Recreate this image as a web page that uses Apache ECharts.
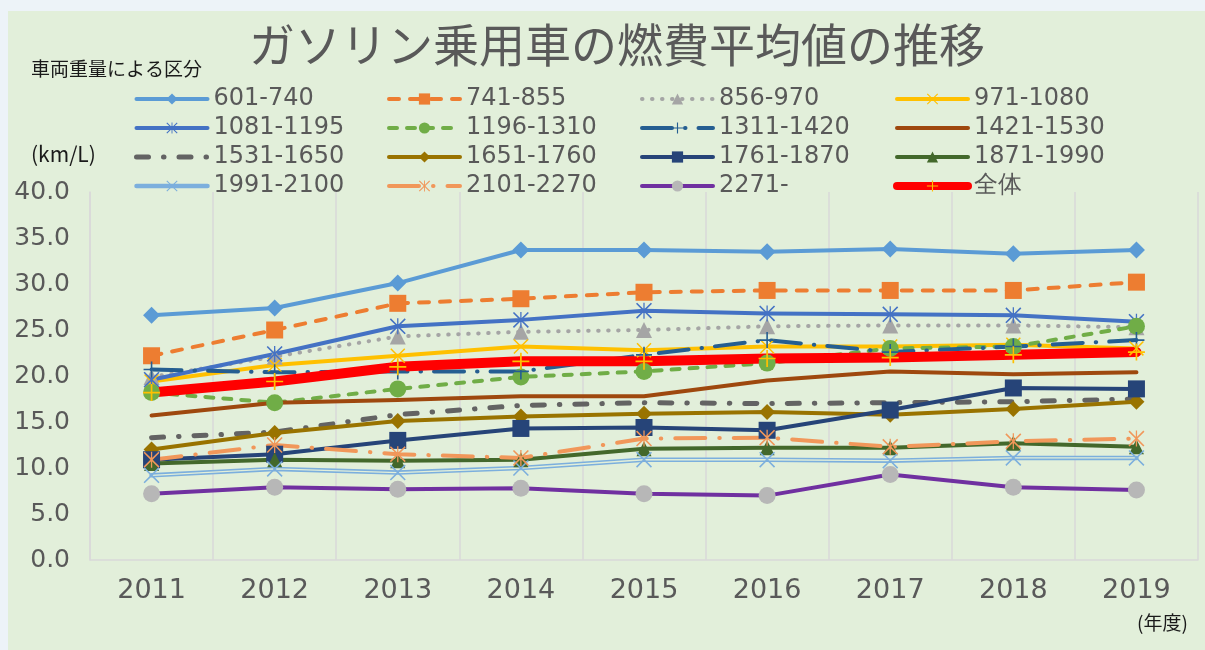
<!DOCTYPE html>
<html>
<head>
<meta charset="utf-8">
<script src="https://cdn.jsdelivr.net/npm/echarts@6/dist/echarts.min.js"></script>
<style>
  html, body { margin: 0; padding: 0; background: #edf3f8; }
  #wrap { position: relative; width: 1205px; height: 650px; overflow: hidden; }
  #panel { position: absolute; left: 8px; top: 11px; right: 0; bottom: 0; background: #e2efda; }
  #chart { position: absolute; left: 0; top: 0; width: 1205px; height: 650px; }
</style>
</head>
<body>
<div id="wrap"><div id="panel"></div><div id="chart"></div></div>
<script>
// ---- data ----
const years = ['2011', '2012', '2013', '2014', '2015', '2016', '2017', '2018', '2019'];
const s601_740   = [26.6, 27.4, 30.1, 33.7, 33.7, 33.5, 33.8, 33.3, 33.7];
const s741_855   = [22.2, 25.0, 27.9, 28.4, 29.1, 29.3, 29.3, 29.3, 30.2];
const s856_970   = [19.9, 22.1, 24.3, 24.8, 25.0, 25.4, 25.5, 25.5, 25.3];
const s971_1080  = [19.4, 21.2, 22.2, 23.2, 22.8, 23.2, 23.2, 23.4, 23.0];
const s1081_1195 = [19.6, 22.4, 25.4, 26.1, 27.1, 26.8, 26.7, 26.6, 25.9];
const s1196_1310 = [18.2, 17.1, 18.6, 19.9, 20.5, 21.4, 23.0, 23.2, 25.4];
const s1311_1420 = [20.7, 20.4, 20.5, 20.5, 22.3, 23.9, 22.6, 23.2, 23.9];
const s1421_1530 = [15.7, 17.1, 17.4, 17.8, 17.8, 19.5, 20.5, 20.2, 20.4];
const s1531_1650 = [13.3, 13.9, 15.8, 16.8, 17.1, 17.0, 17.1, 17.2, 17.5];
const s1651_1760 = [12.0, 13.8, 15.1, 15.6, 15.9, 16.1, 15.8, 16.4, 17.2];
const s1761_1870 = [10.9, 11.5, 13.0, 14.3, 14.4, 14.1, 16.3, 18.7, 18.6];
const s1871_1990 = [10.5, 10.9, 10.8, 10.9, 12.1, 12.2, 12.2, 12.7, 12.3];
const s1991_2100 = [9.2, 9.9, 9.5, 10.0, 10.9, 10.9, 10.8, 11.1, 11.1];
const s2101_2270 = [10.9, 12.5, 11.5, 11.1, 13.2, 13.3, 12.3, 12.9, 13.2];
const s2271      = [7.2, 7.9, 7.7, 7.8, 7.2, 7.0, 9.3, 7.9, 7.6];
const sAll       = [18.2, 19.4, 21.0, 21.6, 21.6, 21.9, 22.0, 22.3, 22.6];

const titleText = 'ガソリン乗用車の燃費平均値の推移';
const legendTitle = '車両重量による区分';
const yUnit = '(km/L)';
const xUnit = '(年度)';

// ---- custom marker shapes ----
const PLUS = 'path://M4.5,0 H5.5 V4.5 H10 V5.5 H5.5 V10 H4.5 V5.5 H0 V4.5 H4.5 Z';
const XMARK = 'path://M0,0.7 L0.7,0 L5,4.3 L9.3,0 L10,0.7 L5.7,5 L10,9.3 L9.3,10 L5,5.7 L0.7,10 L0,9.3 L4.3,5 Z';
const ASTER = 'path://M0,0.7 L0.7,0 L5,4.3 L9.3,0 L10,0.7 L5.7,5 L10,9.3 L9.3,10 L5,5.7 L0.7,10 L0,9.3 L4.3,5 Z M4.6,0 H5.4 V10 H4.6 Z';

const styleMap = {};
function ser(name, data, color, opts) {
  opts = opts || {};
  styleMap[name] = { width: opts.width || 4, hasSymbol: !!opts.symbol };
  return {
    name: name, type: 'line', data: data,
    symbol: opts.symbol || 'none',
    symbolSize: opts.size || 14,
    showSymbol: opts.symbol ? true : false,
    itemStyle: { color: opts.markerColor || color, borderWidth: 0 },
    lineStyle: { color: color, width: opts.width || 4, type: opts.type || 'solid', cap: opts.cap || 'round', join: 'round' },
    z: 2,
    animation: false
  };
}

const series = [
  ser('601-740', s601_740, '#5b9bd5', { symbol: 'diamond', size: 17 }),
  ser('741-855', s741_855, '#ed7d31', { symbol: 'rect', size: 17, type: [10, 11] }),
  ser('856-970', s856_970, '#a5a5a5', { symbol: 'triangle', size: 16, type: [0.5, 9.5] }),
  ser('971-1080', s971_1080, '#ffc000', { symbol: XMARK, size: 15 }),
  ser('1081-1195', s1081_1195, '#4472c4', { symbol: ASTER, size: 16 }),
  ser('1196-1310', s1196_1310, '#70ad47', { symbol: 'circle', size: 17, type: [8, 10] }),
  ser('1311-1420', s1311_1420, '#255e91', { symbol: PLUS, size: 16, type: [30, 13, 0.5, 13] }),
  ser('1421-1530', s1421_1530, '#9e480e', {}),
  ser('1531-1650', s1531_1650, '#636363', { type: [12, 15, 0.5, 15], width: 5 }),
  ser('1651-1760', s1651_1760, '#997300', { symbol: 'diamond', size: 16 }),
  ser('1761-1870', s1761_1870, '#264478', { symbol: 'rect', size: 17 }),
  ser('1871-1990', s1871_1990, '#43682b', { symbol: 'triangle', size: 15 }),
  ser('1991-2100', s1991_2100, '#7cafdd', { symbol: XMARK, size: 16, width: 4.5 }),
  {
    name: '1991-2100 inner', type: 'line', data: s1991_2100, symbol: 'none', showSymbol: false,
    lineStyle: { color: '#e2efda', width: 1.4 }, z: 2, animation: false, silent: true
  },
  ser('2101-2270', s2101_2270, '#f1975a', { symbol: ASTER, size: 16, type: [30, 14, 0.5, 14] }),
  ser('2271-', s2271, '#7030a0', { symbol: 'circle', size: 17, markerColor: '#b7b7b7' }),
  ser('全体', sAll, '#ff0000', { symbol: PLUS, size: 17, markerColor: '#ffc000', width: 10 })
];

const legendCols = [
  ['601-740', '1081-1195', '1531-1650', '1991-2100'],
  ['741-855', '1196-1310', '1651-1760', '2101-2270'],
  ['856-970', '1311-1420', '1761-1870', '2271-'],
  ['971-1080', '1421-1530', '1871-1990', '全体']
];
const legendX = [134, 387, 640, 893];

const legends = legendCols.map((col, i) => ({
  orient: 'vertical',
  left: legendX[i], top: 87,
  data: col.map(n => {
    const st = styleMap[n];
    const item = { name: n, lineStyle: { width: Math.min(st.width, 8) } };
    if (!st.hasSymbol) item.itemStyle = { color: 'rgba(0,0,0,0)', borderWidth: 0 };
    return item;
  }),
  itemWidth: 71, itemHeight: 14, itemGap: 5,
  selectedMode: false,
  textStyle: { fontFamily: 'DejaVu Sans', fontSize: 24, lineHeight: 22, color: '#595959', padding: [0, 0, 0, 1] },
  padding: 0
}));

const chart = echarts.init(document.getElementById('chart'), null, { renderer: 'canvas' });
chart.setOption({
  backgroundColor: 'transparent',
  animation: false,
  title: {
    text: titleText, left: 244, top: 17,
    textStyle: { fontFamily: 'Noto Sans CJK JP', fontSize: 46, fontWeight: 'normal', color: '#595959' }
  },
  legend: legends,
  graphic: [
    { type: 'text', left: 31, top: 59, style: { text: legendTitle, font: '19px "Noto Sans CJK JP"', fill: '#1a1a1a' } },
    { type: 'text', left: 31, top: 144, style: { text: yUnit, font: '21px "Noto Sans CJK JP"', fill: '#1a1a1a' } },
    { type: 'text', left: 1137, top: 613, style: { text: xUnit, font: '19px "Noto Sans CJK JP"', fill: '#1a1a1a' } }
  ],
  grid: { left: 90, right: 7, top: 192, bottom: 90, containLabel: false },
  xAxis: {
    type: 'category', data: years, boundaryGap: true,
    axisLine: { show: true, lineStyle: { color: '#d9d9d9', width: 1.5 } },
    axisTick: { show: false },
    splitLine: { show: true, lineStyle: { color: '#d9d9d9', width: 1.5 } },
    axisLabel: { fontFamily: 'DejaVu Sans', fontSize: 27, color: '#595959', margin: 17 }
  },
  yAxis: {
    type: 'value', min: 0, max: 40, interval: 5,
    axisLine: { show: true, lineStyle: { color: '#d9d9d9', width: 1.5 } },
    axisTick: { show: false },
    splitLine: { show: false },
    axisLabel: { fontFamily: 'DejaVu Sans', fontSize: 25, color: '#595959', margin: 20, formatter: v => v.toFixed(1) }
  },
  series: series
});
</script>
</body>
</html>
